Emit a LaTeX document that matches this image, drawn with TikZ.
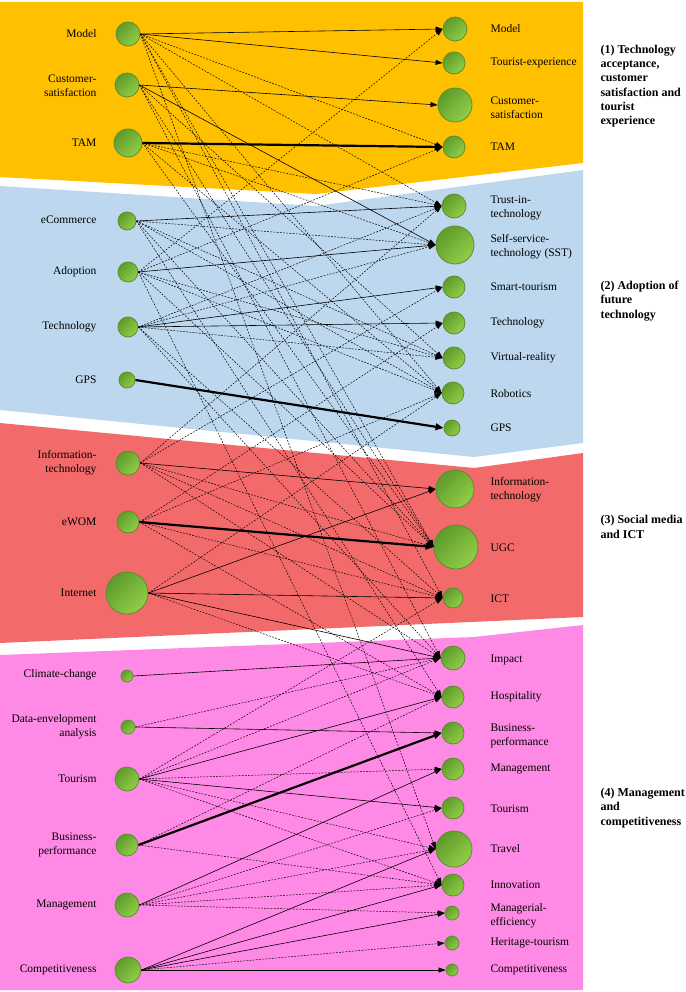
\documentclass[tikz,border=0pt]{standalone}
\usepackage{fontspec}
\setmainfont{Liberation Serif}
\usetikzlibrary{arrows.meta}
\definecolor{bandorange}{HTML}{FFC000}
\definecolor{bandblue}{HTML}{BDD7EE}
\definecolor{bandred}{HTML}{F36A6B}
\definecolor{bandpink}{HTML}{FF8AE6}
\definecolor{balldark}{HTML}{5E9B2B}
\definecolor{balllight}{HTML}{92CE48}
\definecolor{ballrim}{HTML}{5B8E2E}
\newcommand{\lbfont}{\fontsize{11.5}{14}\selectfont}
\newcommand{\grpfont}{\fontsize{12}{14.3}\selectfont\bfseries}

\begin{document}
\begin{tikzpicture}[x=1pt, y=-1pt,
    ball/.style={circle, draw=ballrim, line width=0.8pt, inner sep=0pt,
                 top color=balldark, bottom color=balllight, shading angle=45},
    ltxt/.style={anchor=east, align=right, font=\lbfont},
    rtxt/.style={anchor=west, align=left, font=\lbfont},
    grp/.style={anchor=west, align=left, font=\grpfont},
    sol/.style={-{Triangle[length=7pt,width=5pt]}, line width=0.6pt},
    dsh/.style={sol, dash pattern=on 1.8pt off 1.4pt, line width=0.5pt},
    thk/.style={-{Triangle[length=8pt,width=6.5pt]}, line width=2.2pt}
  ]
  \useasboundingbox (0,0) rectangle (685,992);

  % bands
  \fill[bandorange] (0,2) -- (583,2) -- (583,163) -- (316,194) -- (0,177) -- cycle;
  \fill[bandblue] (0,186) -- (316,206) -- (583,170) -- (583,443) -- (474,457) -- (0,410) -- cycle;
  \fill[bandred] (0,423) -- (474,468) -- (583,453) -- (583,617) -- (0,643) -- cycle;
  \fill[bandpink] (0,655) -- (474,637) -- (583,625) -- (583,990) -- (0,990) -- cycle;

  % left column
  \node[ball, minimum size=24pt] (lModel) at (128,34) {};
  \node[ball, minimum size=24pt] (lCust)  at (127,85) {};
  \node[ball, minimum size=28pt] (lTAM)   at (128,143) {};
  \node[ball, minimum size=18pt] (lEcom)  at (127,221) {};
  \node[ball, minimum size=20pt] (lAdopt) at (128,272) {};
  \node[ball, minimum size=20pt] (lTech)  at (128,327) {};
  \node[ball, minimum size=16pt] (lGPS)   at (127,380) {};
  \node[ball, minimum size=24pt] (lIT)    at (128,463) {};
  \node[ball, minimum size=22pt] (lEwom)  at (128,522) {};
  \node[ball, minimum size=42pt] (lNet)   at (127,593) {};
  \node[ball, minimum size=12pt] (lClim)  at (127,676) {};
  \node[ball, minimum size=14pt] (lDea)   at (128,727) {};
  \node[ball, minimum size=24pt] (lTour)  at (127,779) {};
  \node[ball, minimum size=22pt] (lBp)    at (127,845) {};
  \node[ball, minimum size=24pt] (lMgmt)  at (127,905) {};
  \node[ball, minimum size=26pt] (lComp)  at (128,970) {};

  \node[ltxt] (tModelL) at (100,34) {Model};
  \node[ltxt] (tCustL)  at (100,86) {Customer-\\satisfaction};
  \node[ltxt] (tTAML)   at (100,143) {TAM};
  \node[ltxt] (tEcomL)  at (100,220) {eCommerce};
  \node[ltxt] (tAdoptL) at (100,272) {Adoption};
  \node[ltxt] (tTechL)  at (100,327) {Technology};
  \node[ltxt] (tGPSL)   at (100,380) {GPS};
  \node[ltxt] (tITL)    at (100,463) {Information-\\technology};
  \node[ltxt] (tEwomL)  at (100,522) {eWOM};
  \node[ltxt] (tNetL)   at (100,593) {Internet};
  \node[ltxt] (tClimL)  at (100,675) {Climate-change};
  \node[ltxt] (tDeaL)   at (100,727) {Data-envelopment\\analysis};
  \node[ltxt] (tTourL)  at (100,779) {Tourism};
  \node[ltxt] (tBpL)    at (100,845) {Business-\\performance};
  \node[ltxt] (tMgmtL)  at (100,905) {Management};
  \node[ltxt] (tCompL)  at (100,970) {Competitiveness};

  % right column
  \node[ball, minimum size=24pt] (rModel) at (455,29) {};
  \node[ball, minimum size=22pt] (rTexp)  at (454,63) {};
  \node[ball, minimum size=34pt] (rCust)  at (455,105) {};
  \node[ball, minimum size=22pt] (rTAM)   at (454,147) {};
  \node[ball, minimum size=24pt] (rTrust) at (454,206) {};
  \node[ball, minimum size=38pt] (rSst)   at (455,245) {};
  \node[ball, minimum size=22pt] (rSmart) at (454,287) {};
  \node[ball, minimum size=22pt] (rTech)  at (454,323) {};
  \node[ball, minimum size=22pt] (rVr)    at (454,358) {};
  \node[ball, minimum size=22pt] (rRob)   at (453,393) {};
  \node[ball, minimum size=16pt] (rGPS)   at (452,428) {};
  \node[ball, minimum size=38pt] (rIT)    at (455,489) {};
  \node[ball, minimum size=44pt] (rUgc)   at (456,547) {};
  \node[ball, minimum size=20pt] (rIct)   at (453,598) {};
  \node[ball, minimum size=24pt] (rImp)   at (453,658) {};
  \node[ball, minimum size=22pt] (rHosp)  at (453,697) {};
  \node[ball, minimum size=22pt] (rBp)    at (453,733) {};
  \node[ball, minimum size=22pt] (rMgmt)  at (453,769) {};
  \node[ball, minimum size=22pt] (rTour)  at (453,808) {};
  \node[ball, minimum size=36pt] (rTrav)  at (454,849) {};
  \node[ball, minimum size=22pt] (rInno)  at (453,885) {};
  \node[ball, minimum size=14pt] (rMeff)  at (452,913) {};
  \node[ball, minimum size=14pt] (rHer)   at (452,943) {};
  \node[ball, minimum size=12pt] (rComp)  at (452,970) {};

  \node[rtxt] (tModelR) at (487,29) {Model};
  \node[rtxt] (tTexpR)  at (487,63) {Tourist-experience};
  \node[rtxt] (tCustR)  at (487,108) {Customer-\\satisfaction};
  \node[rtxt] (tTAMR)   at (487,147) {TAM};
  \node[rtxt] (tTrustR) at (487,208) {Trust-in-\\technology};
  \node[rtxt] (tSstR)   at (487,247) {Self-service-\\technology (SST)};
  \node[rtxt] (tSmartR) at (487,287) {Smart-tourism};
  \node[rtxt] (tTechR)  at (487,323) {Technology};
  \node[rtxt] (tVrR)    at (487,358) {Virtual-reality};
  \node[rtxt] (tRobR)   at (487,394) {Robotics};
  \node[rtxt] (tGPSR)   at (487,428) {GPS};
  \node[rtxt] (tITR)    at (487,490) {Information-\\technology};
  \node[rtxt] (tUgcR)   at (487,548) {UGC};
  \node[rtxt] (tIctR)   at (487,599) {ICT};
  \node[rtxt] (tImpR)   at (487,660) {Impact};
  \node[rtxt] (tHospR)  at (487,697) {Hospitality};
  \node[rtxt] (tBpR)    at (487,736) {Business-\\performance};
  \node[rtxt] (tMgmtR)  at (487,769) {Management};
  \node[rtxt] (tTourR)  at (487,809) {Tourism};
  \node[rtxt] (tTravR)  at (487,849) {Travel};
  \node[rtxt] (tInnoR)  at (487,885) {Innovation};
  \node[rtxt] (tMeffR)  at (487,916) {Managerial-\\efficiency};
  \node[rtxt] (tHerR)   at (487,943) {Heritage-tourism};
  \node[rtxt] (tCompR)  at (487,970) {Competitiveness};

  % cluster labels
  \node[grp] (gOne)   at (597,86) {(1) Technology\\acceptance,\\customer\\satisfaction and\\tourist\\experience};
  \node[grp] (gTwo)   at (597,301) {(2) Adoption of\\future\\technology};
  \node[grp] (gThree) at (597,527) {(3) Social media\\and ICT};
  \node[grp] (gFour)  at (597,808) {(4) Management\\and\\competitiveness};

  % links
  \foreach \a/\b in {lModel/rTAM, lModel/rTrust, lModel/rRob, lModel/rUgc, lModel/rIct, lModel/rTrav,
      lCust/rVr, lCust/rUgc, lCust/rImp,
      lTAM/rTrust, lTAM/rSst, lTAM/rRob, lTAM/rUgc,
      lEcom/rSst, lEcom/rVr, lEcom/rRob, lEcom/rUgc, lEcom/rHosp,
      lAdopt/rModel, lAdopt/rTAM, lAdopt/rVr, lAdopt/rRob, lAdopt/rUgc, lAdopt/rInno,
      lTech/rTrust, lTech/rSst, lTech/rVr, lTech/rIct, lTech/rImp,
      lIT/rTrust, lIT/rSmart, lIT/rUgc, lIT/rIct, lIT/rImp,
      lEwom/rRob, lEwom/rTech, lEwom/rIct, lEwom/rHosp,
      lNet/rRob, lNet/rHosp,
      lDea/rImp,
      lTour/rIct, lTour/rImp, lTour/rMgmt, lTour/rTrav, lTour/rInno,
      lBp/rHosp, lBp/rInno,
      lMgmt/rTour, lMgmt/rTrav, lMgmt/rInno, lMgmt/rMeff,
      lComp/rHer}
    \draw[dsh] (\a.east) -- (\b.west);
  \foreach \a/\b in {lModel/rModel, lModel/rTexp, lCust/rCust, lCust/rSst,
      lEcom/rTrust, lAdopt/rSst, lTech/rSmart, lTech/rTech,
      lIT/rIT, lNet/rIT, lNet/rIct, lNet/rImp, lClim/rImp, lDea/rBp,
      lTour/rHosp, lTour/rTour, lMgmt/rMgmt,
      lComp/rTrav, lComp/rInno, lComp/rMeff, lComp/rComp}
    \draw[sol] (\a.east) -- (\b.west);
  \foreach \a/\b in {lTAM/rTAM, lGPS/rGPS, lEwom/rUgc, lBp/rBp}
    \draw[thk] (\a.east) -- (\b.west);
\end{tikzpicture}
\end{document}
